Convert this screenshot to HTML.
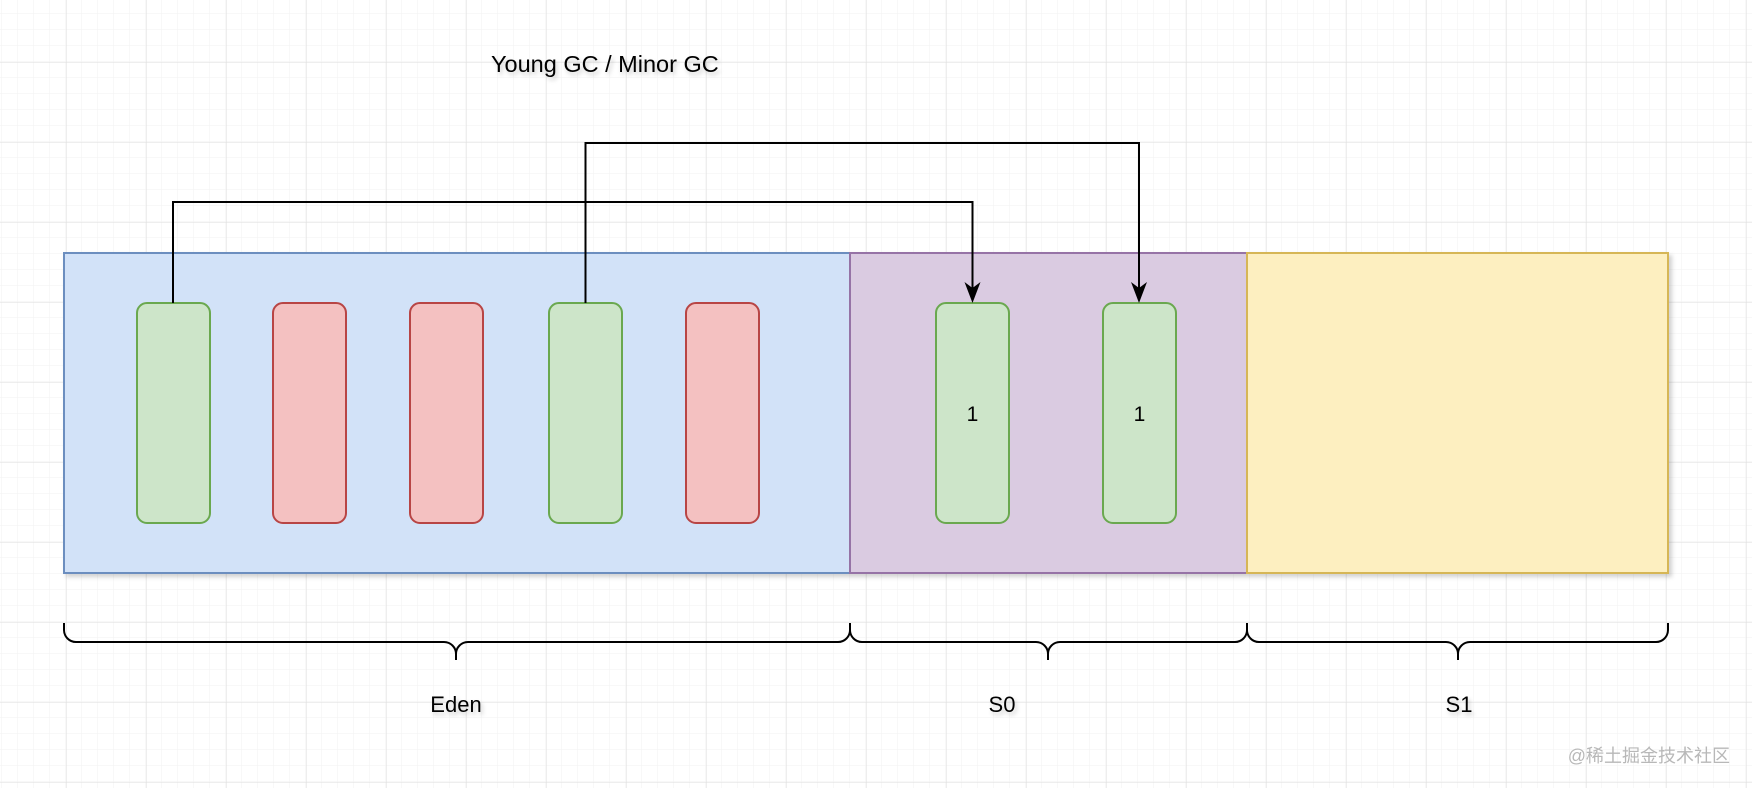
<!DOCTYPE html>
<html><head><meta charset="utf-8"><style>
html,body{margin:0;padding:0;background:#fff;}
svg{display:block;}
text{font-family:"Liberation Sans","Noto Sans CJK SC",sans-serif;}
</style></head><body>
<svg id="dg" width="1752" height="788" viewBox="0 0 1752 788">
<defs>
<pattern id="minor" width="16" height="16" patternUnits="userSpaceOnUse" x="66" y="62"><path d="M16 0V16M0 16H16" stroke="#f2f2f2" stroke-width="1" fill="none"/></pattern>
<pattern id="major" width="80" height="80" patternUnits="userSpaceOnUse" x="66" y="62"><path d="M0 0V80M0 0H80" stroke="#dedede" stroke-width="1" fill="none"/></pattern>
<filter id="sh" x="-5%" y="-5%" width="115%" height="120%"><feDropShadow dx="3" dy="3" stdDeviation="2" flood-color="#000" flood-opacity="0.18"/></filter>
<filter id="tsh" x="-5%" y="-20%" width="115%" height="160%"><feDropShadow dx="2" dy="3" stdDeviation="2" flood-color="#000" flood-opacity="0.2"/></filter>
</defs>
<rect width="1752" height="788" fill="url(#minor)"/>
<rect width="1752" height="788" fill="url(#major)"/>
<text x="491" y="72" font-size="23.5" fill="#000" filter="url(#tsh)">Young GC / Minor GC</text>
<g filter="url(#sh)">
<rect x="64" y="253" width="786" height="320" fill="#d2e2f8" stroke="#6c8ebf" stroke-width="2"/>
<rect x="850" y="253" width="397" height="320" fill="#dacbe1" stroke="#9673a6" stroke-width="2"/>
<rect x="1247" y="253" width="421" height="320" fill="#fdefc0" stroke="#d6b656" stroke-width="2"/>
</g>
<g id="objs"></g>
<path d="M173 303V202H972.5V290" fill="none" stroke="#000" stroke-width="2"/>
<path d="M585.5 303V143H1139V290" fill="none" stroke="#000" stroke-width="2"/>
<path d="M972.5 303l-8-21 8 6 8-6z" fill="#000"/>
<path d="M1139 303l-8-21 8 6 8-6z" fill="#000"/>
<g fill="none" stroke="#000" stroke-width="2">
<path d="M64 623v7a12 12 0 0 0 12 12H444a12 12 0 0 1 12 12v6M456 660v-6a12 12 0 0 1 12-12H838a12 12 0 0 0 12-12v-7"/>
<path d="M850 623v7a12 12 0 0 0 12 12H1036a12 12 0 0 1 12 12v6M1048 660v-6a12 12 0 0 1 12-12H1235a12 12 0 0 0 12-12v-7"/>
<path d="M1247 623v7a12 12 0 0 0 12 12H1446a12 12 0 0 1 12 12v6M1458 660v-6a12 12 0 0 1 12-12H1656a12 12 0 0 0 12-12v-7"/>
</g>
<g filter="url(#tsh)">
<text x="456" y="712" font-size="22" text-anchor="middle">Eden</text>
<text x="1002" y="712" font-size="22" text-anchor="middle">S0</text>
<text x="1459" y="712" font-size="22" text-anchor="middle">S1</text>
</g>
<text x="1730" y="762" font-size="18" text-anchor="end" fill="#b8b8b8">@稀土掘金技术社区</text>
</svg>
<script>
const objX = [137, 273, 410, 549, 686, 936, 1103];
const objAlive = [true, false, false, true, false, true, true];
const objLabel = ["", "", "", "", "", "1", "1"];
const g = document.getElementById('objs');
const NS = 'http://www.w3.org/2000/svg';
objX.forEach((x, i) => {
  const r = document.createElementNS(NS, 'rect');
  r.setAttribute('x', x); r.setAttribute('y', 303);
  r.setAttribute('width', 73); r.setAttribute('height', 220);
  r.setAttribute('rx', 10);
  r.setAttribute('fill', objAlive[i] ? '#cde5c9' : '#f4c1c1');
  r.setAttribute('stroke', objAlive[i] ? '#6aa84f' : '#b84545');
  r.setAttribute('stroke-width', 2);
  
  
  g.appendChild(r);
  if (objLabel[i]) {
    const t = document.createElementNS(NS, 'text');
    t.setAttribute('x', x + 36.5); t.setAttribute('y', 421);
    t.setAttribute('font-size', 21); t.setAttribute('text-anchor', 'middle');
    t.textContent = objLabel[i];
    
    
    g.appendChild(t);
  }
});
</script>
</body></html>
